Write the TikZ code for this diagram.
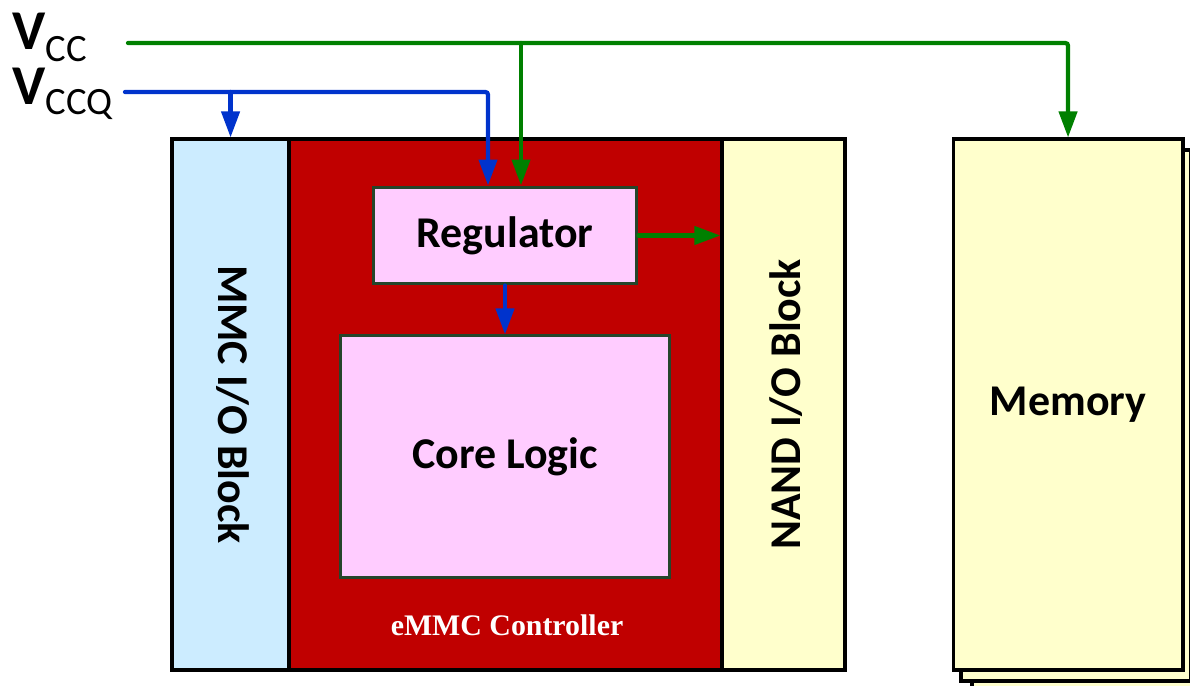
\documentclass[tikz,border=0pt]{standalone}
\usepackage{fontspec}
\setmainfont{Carlito}
\newfontfamily\ctrlfont{Liberation Serif}
\usetikzlibrary{arrows.meta,positioning}
\definecolor{EmmcRed}{HTML}{C00000}
\definecolor{EmmcBlue}{HTML}{CCECFF}
\definecolor{EmmcYellow}{HTML}{FFFFCC}
\definecolor{EmmcPink}{HTML}{FFCCFF}
\definecolor{EmmcEdge}{HTML}{25452B}
\definecolor{VccGreen}{HTML}{008000}
\definecolor{VccqBlue}{HTML}{0033CC}

\begin{document}
\begin{tikzpicture}[x=0.02cm,y=-0.02cm,
    every node/.style={font=\fontsize{25}{29}\selectfont\bfseries}]
    \tikzset{blk/.style={draw=black,line width=1.8pt,minimum height=10.62cm,inner sep=0pt},
      inbox/.style={draw=EmmcEdge,line width=1.7pt,fill=EmmcPink,inner sep=0pt},
      rail/.style={line width=2.4pt,line cap=round,rounded corners=1.5pt,
        -{Triangle[length=0.52cm,width=0.36cm]}}}
    \useasboundingbox (0,0) rectangle (1190,686);
    \node[blk,fill=EmmcRed,minimum width=8.66cm] (ctrl) at (505.5,404.5) {};
    \node[blk,fill=EmmcBlue,minimum width=2.34cm,left=-1.8pt of ctrl] (mmc) {};
    \node[blk,fill=EmmcYellow,minimum width=2.46cm,right=-1.8pt of ctrl] (nand) {};
    \node[rotate=-90] (mmclbl) at ([xshift=0.05cm]mmc) {MMC I/O Block};
    \node[rotate=90] (nandlbl) at ([xshift=0.05cm]nand) {NAND I/O Block};
    \node[inbox,minimum width=5.28cm,minimum height=1.94cm] (reg) at (505,235.5) {Regulator};
    \node[inbox,minimum width=6.6cm,minimum height=4.84cm,below=0.98cm of reg] (core) {Core Logic};
    \node[anchor=base,text=white,font=\fontsize{17}{20}\selectfont\ctrlfont\bfseries] (ctrllbl)
      at (507,635) {eMMC Controller};
    \foreach \k in {2,1}{\node[blk,fill=EmmcYellow,minimum width=4.6cm] (mem\k)
      at ({1065+11*\k},{404.5+11*\k}) {};}
    \node[blk,fill=EmmcYellow,minimum width=4.6cm,right=2.1cm of nand] (mem) {Memory};
    \node[anchor=base west,inner sep=0pt] (vcclbl) at (12,50)
      {\fontsize{32}{32}\selectfont V\raisebox{-0.24cm}{\fontsize{22}{22}\selectfont\mdseries CC}};
    \node[anchor=base west,inner sep=0pt] (vccqlbl) at (12,105)
      {\fontsize{32}{32}\selectfont V\raisebox{-0.2cm}{\fontsize{22}{22}\selectfont\mdseries CCQ}};
    \coordinate (vcc) at (128,43);
    \coordinate (vccq) at (125,92);
    \coordinate (regR) at ([xshift=0.32cm]reg.north);
    \coordinate (regL) at ([xshift=-0.34cm]reg.north);
    \draw[rail,VccGreen] (vcc) -| (mem.north);
    \draw[rail,VccGreen] (vcc -| regR) -- (regR);
    \draw[rail,VccqBlue] (vccq) -| (regL);
    \draw[rail,VccqBlue] (vccq -| mmc.north) -- (mmc.north);
    \draw[rail,VccGreen] (reg.east) -- (reg.east -| nand.west);
    \draw[rail,VccqBlue] (reg.south) -- (core.north);
  \end{tikzpicture}
\end{document}
